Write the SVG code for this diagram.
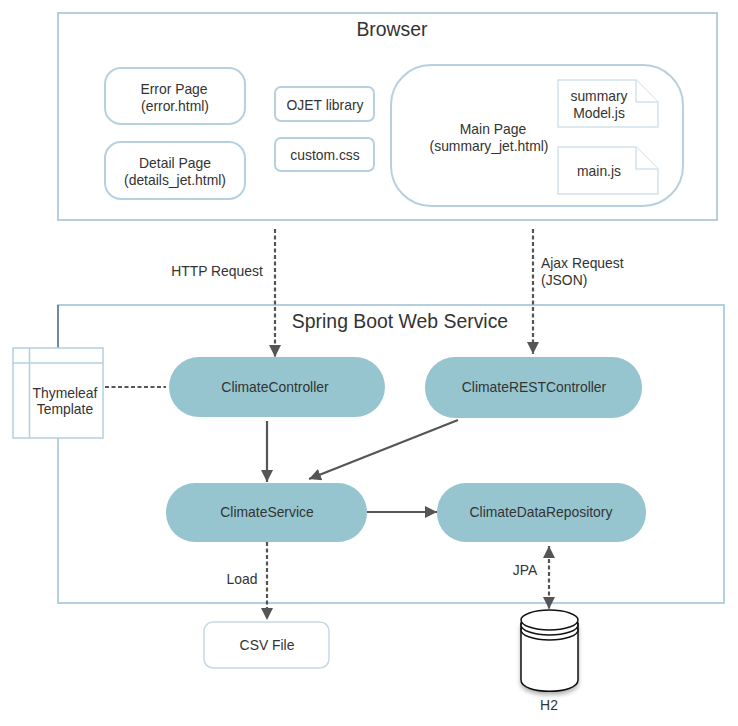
<svg xmlns="http://www.w3.org/2000/svg" width="738" height="726" viewBox="0 0 738 726">
<defs>
<marker id="ah" markerUnits="userSpaceOnUse" markerWidth="14" markerHeight="14" refX="12" refY="6" orient="auto-start-reverse"><path d="M0 0L12 6L0 12Z" fill="#555"/></marker>
<filter id="sh" x="-20%" y="-20%" width="140%" height="140%"><feDropShadow dx="0" dy="3" stdDeviation="2" flood-color="#000" flood-opacity=".3"/></filter>
</defs>
<style>
text{font-family:"Liberation Sans",Arial,sans-serif;fill:#333;font-size:13.900px;text-anchor:middle}
.t{font-size:19.400px}
.b{fill:#fff;stroke:#b4cfdf;stroke-width:2}
.n{fill:#fff;stroke:#b7d0e0;stroke-width:2}
.f{fill:#fff;stroke:#d3e1ea;stroke-width:1.5}
.p{fill:#96c5d0}
.c{fill:none;stroke:#555;stroke-width:2.2}
.d{stroke-dasharray:4 2.500}
.cy{fill:#fff;stroke:#111;stroke-width:1.5}
</style>
<rect width="738" height="726" fill="#fff"/>
<g id="browser"><rect class="b" x="58" y="13" width="659" height="207"/><text class="t" x="392" y="36">Browser</text></g>
<g id="spring-boot"><rect class="b" x="58" y="305" width="666" height="298"/><path d="M58 305V348" stroke="#5d7388" stroke-width="1.5"/><text class="t" x="400" y="328">Spring Boot Web Service</text></g>
<g id="error-page"><rect class="n" x="105" y="68" width="140" height="56" rx="16"/><text x="174" y="94">Error Page</text><text x="175" y="111">(error.html)</text></g>
<g id="detail-page"><rect class="n" x="105" y="142" width="140" height="57" rx="16"/><text x="175" y="168">Detail Page</text><text x="175" y="185">(details_jet.html)</text></g>
<g id="ojet"><rect class="n" x="275" y="87" width="99" height="34" rx="6"/><text x="325" y="110">OJET library</text></g>
<g id="custom-css"><rect class="n" x="275" y="138" width="99" height="33" rx="6"/><text x="325" y="160">custom.css</text></g>
<g id="main-page"><rect class="n" x="391" y="65" width="292" height="141" rx="40"/><text x="493" y="134">Main Page</text><text x="489" y="151">(summary_jet.html)</text></g>
<g id="summary-model"><path class="f" d="M558 80H636L658 102V127H558Z"/><path class="f" d="M636 80V102H658"/><text x="599" y="101">summary</text><text x="599" y="118">Model.js</text></g>
<g id="main-js"><path class="f" d="M558 147H636L658 169V194H558Z"/><path class="f" d="M636 147V169H658"/><text x="599" y="176">main.js</text></g>
<g id="thymeleaf"><rect x="13" y="348" width="90" height="90" fill="#fff" stroke="#b4cfdf" stroke-width="1.5"/><path d="M13 363H103M29.500 348V438" stroke="#b4cfdf" stroke-width="1.500" fill="none"/><text x="65" y="398">Thymeleaf</text><text x="65" y="414">Template</text></g>
<g id="climate-controller"><rect class="p" x="169" y="357" width="216" height="60" rx="30"/><text x="275" y="392">ClimateController</text></g>
<g id="climate-rest"><rect class="p" x="425" y="357" width="217" height="61" rx="30"/><text x="534" y="392">ClimateRESTController</text></g>
<g id="climate-service"><rect class="p" x="166" y="483" width="201" height="59" rx="29"/><text x="267" y="517">ClimateService</text></g>
<g id="climate-repo"><rect class="p" x="437" y="483" width="209" height="59" rx="29"/><text x="541" y="517">ClimateDataRepository</text></g>
<g id="csv"><rect class="f" x="204" y="622" width="125" height="46" rx="9" style="stroke:#c5d9e5"/><text x="267" y="650">CSV File</text></g>
<g id="h2"><path class="cy" filter="url(#sh)" d="M521 623V680C521 695 578 695 578 680V623Z"/><ellipse class="cy" cx="549.500" cy="630" rx="28.500" ry="10"/><ellipse class="cy" cx="549.500" cy="625" rx="28.500" ry="10"/><ellipse class="cy" cx="549.500" cy="620" rx="28.500" ry="10"/><text x="549" y="710">H2</text></g>
<g id="connectors">
<path class="c d" d="M275 229V357" marker-end="url(#ah)"/>
<path class="c d" d="M533 229V354" marker-end="url(#ah)"/>
<path class="c d" d="M105 387H166"/>
<path class="c" d="M267 421V482" marker-end="url(#ah)"/>
<path class="c" d="M458 420L309 479" marker-end="url(#ah)"/>
<path class="c" d="M367 512H437" marker-end="url(#ah)"/>
<path class="c d" d="M267 542V620" marker-end="url(#ah)"/>
<path class="c d" d="M549 546V609" marker-start="url(#ah)" marker-end="url(#ah)"/>
</g>
<g id="labels"><text x="217" y="276">HTTP Request</text><text x="541" y="268" style="text-anchor:start">Ajax Request</text><text x="541" y="285" style="text-anchor:start">(JSON)</text><text x="242" y="584">Load</text><text x="525" y="575">JPA</text></g>
</svg>
